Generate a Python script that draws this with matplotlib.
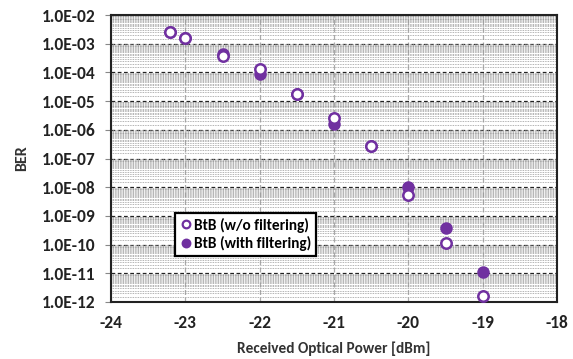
import matplotlib
matplotlib.use("Agg")
import matplotlib.pyplot as plt
from matplotlib.ticker import LogLocator, FixedLocator
from matplotlib.lines import Line2D

power_wo = [-23.2, -23.0, -22.5, -22.0, -21.5, -21.0, -20.5, -20.0, -19.5, -19.0]
ber_wo = [2.6e-3, 1.6e-3, 3.8e-4, 1.35e-4, 1.8e-5, 2.5e-6, 2.7e-7, 5.2e-9, 1.1e-10, 1.6e-12]
power_w = [-23.2, -23.0, -22.5, -22.0, -21.5, -21.0, -20.5, -20.0, -19.5, -19.0]
ber_w = [2.6e-3, 1.6e-3, 4.4e-4, 9.0e-5, 1.8e-5, 1.6e-6, 2.8e-7, 1.0e-8, 3.8e-10, 1.1e-11]
xticks = [-24, -23, -22, -21, -20, -19, -18]
yticks = [1e-2, 1e-3, 1e-4, 1e-5, 1e-6, 1e-7, 1e-8, 1e-9, 1e-10, 1e-11, 1e-12]
ytick_labels = ["1.0E-02", "1.0E-03", "1.0E-04", "1.0E-05", "1.0E-06", "1.0E-07",
                "1.0E-08", "1.0E-09", "1.0E-10", "1.0E-11", "1.0E-12"]

purple = "#7030A0"
plt.rcParams['font.family'] = ['Carlito', 'DejaVu Sans']

fig = plt.figure(figsize=(5.73, 3.59), dpi=100)
ax = fig.add_axes([111/573, 1 - 302/359, (557-111)/573, (302-15)/359])

ax.set_yscale('log')
ax.set_xlim(-24, -18)
ax.set_ylim(1e-12, 1e-2)

ax.plot(power_w, ber_w, 'o', ms=7.5, mfc=purple, mec=purple, mew=1.5, zorder=3)
ax.plot(power_wo, ber_wo, 'o', ms=7.5, mfc='white', mec=purple, mew=1.8, zorder=4)

ax.yaxis.set_major_locator(FixedLocator(yticks))
ax.set_yticklabels(ytick_labels)
ax.yaxis.set_minor_locator(LogLocator(base=10, subs=[i/10 for i in range(1, 10)] + [i/10 + 0.05 for i in range(1, 10)], numticks=100))
ax.yaxis.set_minor_formatter(plt.NullFormatter())
ax.set_xticks(xticks)
ax.set_xticklabels([str(t) for t in xticks])

ax.grid(which='major', axis='y', color='#222222', linestyle=(0, (3, 2)), linewidth=0.9)
ax.grid(which='minor', axis='y', color='#999999', linestyle=(0, (1, 1)), linewidth=0.6)
ax.grid(which='major', axis='x', color='#aaaaaa', linestyle=(0, (4, 2)), linewidth=0.9)

ax.tick_params(axis='both', which='both', length=0, pad=9)
ax.tick_params(axis='y', which='major', length=4, direction='out', color='#888888', pad=7)
for lbl in ax.get_xticklabels() + ax.get_yticklabels():
    lbl.set_fontweight('bold')
    lbl.set_fontsize(12.5)
    lbl.set_color('#222222')

for s in ax.spines.values():
    s.set_linewidth(1.5)
    s.set_color('#222222')

ax.set_xlabel("Received Optical Power [dBm]", fontsize=11, fontweight='bold', color='#333333', labelpad=8)
ax.set_ylabel("BER", fontsize=11.5, fontweight='bold', color='#333333', labelpad=9)

handles = [Line2D([], [], ls='none', marker='o', ms=5.5, mfc='white', mec=purple, mew=1.6),
           Line2D([], [], ls='none', marker='o', ms=5.5, mfc=purple, mec=purple, mew=1.6)]
leg = ax.legend(handles, ["BtB (w/o filtering)", "BtB (with filtering)"], loc='upper left',
                bbox_to_anchor=((175-111)/446, (302-213)/287),
                frameon=True, fancybox=False, framealpha=1, edgecolor='black',
                borderpad=0.3, handletextpad=0.15, labelspacing=0.25, handlelength=0.8,
                borderaxespad=0, prop={'weight': 'bold', 'size': 11})
leg.get_frame().set_linewidth(1.6)

fig.savefig("out.png", dpi=100)
